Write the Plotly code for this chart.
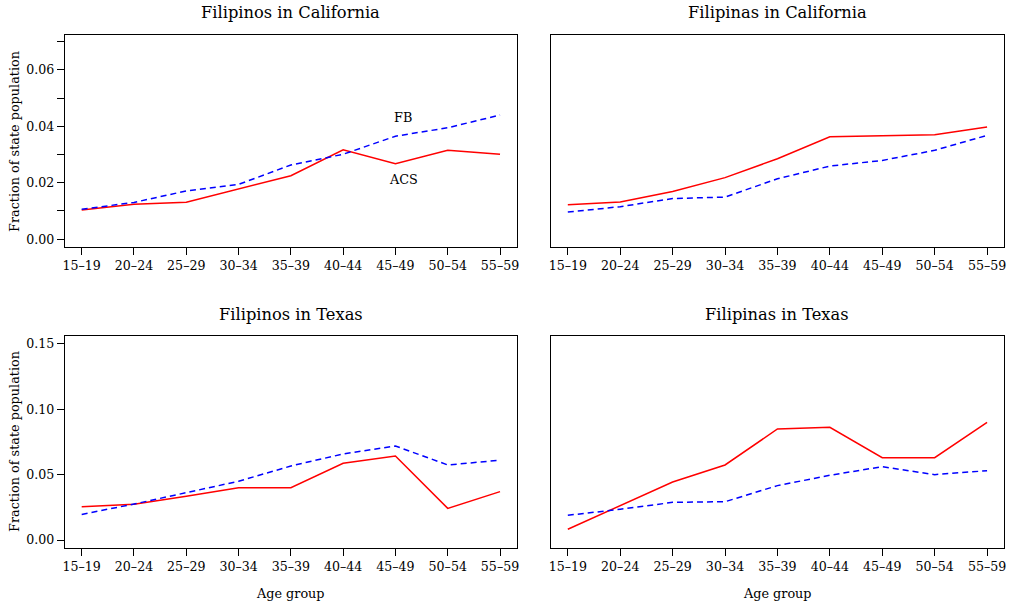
import plotly.graph_objects as go

age_groups = ["15–19", "20–24", "25–29", "30–34", "35–39", "40–44", "45–49", "50–54", "55–59"]

ca_male_acs = [0.0103, 0.0124, 0.0131, 0.0177, 0.0225, 0.0317, 0.0267, 0.0315, 0.0301]
ca_male_fb = [0.0106, 0.0130, 0.0171, 0.0194, 0.0263, 0.0301, 0.0365, 0.0395, 0.0440]
ca_female_acs = [0.0122, 0.0132, 0.0169, 0.0218, 0.0285, 0.0363, 0.0367, 0.0370, 0.0398]
ca_female_fb = [0.0096, 0.0115, 0.0144, 0.0149, 0.0214, 0.0259, 0.0279, 0.0315, 0.0368]
tx_male_acs = [0.0255, 0.0273, 0.0334, 0.0400, 0.0400, 0.0587, 0.0643, 0.0242, 0.0370]
tx_male_fb = [0.0196, 0.0275, 0.0362, 0.0449, 0.0566, 0.0658, 0.0719, 0.0574, 0.0610]
tx_female_acs = [0.0082, 0.0263, 0.0444, 0.0574, 0.0849, 0.0862, 0.0630, 0.0630, 0.0900]
tx_female_fb = [0.0189, 0.0235, 0.0288, 0.0293, 0.0416, 0.0495, 0.0561, 0.0500, 0.0530]

titles = ["Filipinos in California", "Filipinas in California", "Filipinos in Texas", "Filipinas in Texas"]

W, H = 1019, 607
FONT = "DejaVu Serif"


def fx(px):
    return px / W


def fy(py):
    return 1 - py / H


fig = go.Figure()

panels = [
    (1, ca_male_acs, ca_male_fb),
    (2, ca_female_acs, ca_female_fb),
    (3, tx_male_acs, tx_male_fb),
    (4, tx_female_acs, tx_female_fb),
]
for idx, acs, fb in panels:
    sfx = "" if idx == 1 else str(idx)
    fig.add_trace(go.Scatter(x=age_groups, y=acs, mode="lines", name="ACS",
                             line=dict(color="#FF0000", width=1.5),
                             xaxis="x" + sfx, yaxis="y" + sfx, showlegend=False))
    fig.add_trace(go.Scatter(x=age_groups, y=fb, mode="lines", name="FB",
                             line=dict(color="#0000FF", width=1.5, dash="6px,4px"),
                             xaxis="x" + sfx, yaxis="y" + sfx, showlegend=False))

xl = [fx(63), fx(517)]
xr = [fx(551), fx(1006)]
yt = [fy(247), fy(35)]
yb = [fy(548), fy(336)]

TICKFONT = dict(family=FONT, size=12.6, color="black")

xcommon = dict(showline=True, mirror=True, linecolor="black", linewidth=1,
               ticks="outside", ticklen=7, tickcolor="black", showgrid=False,
               zeroline=False, range=[-0.324, 8.324], tickfont=TICKFONT)

fig.update_layout(
    width=W, height=H,
    margin=dict(l=0, r=0, t=0, b=0),
    paper_bgcolor="white", plot_bgcolor="white",
    font=dict(family=FONT, color="black"),
    xaxis=dict(domain=xl, anchor="y", **xcommon),
    xaxis2=dict(domain=xr, anchor="y2", **xcommon),
    xaxis3=dict(domain=xl, anchor="y3", **xcommon),
    xaxis4=dict(domain=xr, anchor="y4", **xcommon),
    yaxis=dict(domain=yt, anchor="x", range=[-0.0028, 0.0724], dtick=0.02, tick0=0,
               tickformat=".2f", showline=True, mirror=True, linecolor="black",
               ticks="outside", ticklen=7, tickcolor="black", showgrid=False, zeroline=False,
               minor=dict(dtick=0.01, tick0=0, ticks="outside", ticklen=7, tickcolor="black", showgrid=False),
               tickfont=TICKFONT),
    yaxis2=dict(domain=yt, anchor="x2", range=[-0.0028, 0.0724], showline=True, mirror=True,
                linecolor="black", showticklabels=False, ticks="", showgrid=False, zeroline=False),
    yaxis3=dict(domain=yb, anchor="x3", range=[-0.0061, 0.156], dtick=0.05, tick0=0,
                tickformat=".2f", showline=True, mirror=True, linecolor="black",
                ticks="outside", ticklen=7, tickcolor="black", showgrid=False, zeroline=False,
                tickfont=TICKFONT),
    yaxis4=dict(domain=yb, anchor="x4", range=[-0.0061, 0.156], showline=True, mirror=True,
                linecolor="black", showticklabels=False, ticks="", showgrid=False, zeroline=False),
)

ann = []
title_pos = [((63 + 517) / 2, 13), ((551 + 1006) / 2, 13), ((63 + 517) / 2, 314), ((551 + 1006) / 2, 314)]
for t, (px, py) in zip(titles, title_pos):
    ann.append(dict(text=t, x=fx(px), y=fy(py), xref="paper", yref="paper",
                    showarrow=False, xanchor="center", yanchor="middle",
                    font=dict(family=FONT, size=16.3, color="black")))
for py in (141, 441):
    ann.append(dict(text="Fraction of state population", x=fx(12), y=fy(py),
                    xref="paper", yref="paper", showarrow=False, textangle=-90,
                    xanchor="center", yanchor="middle",
                    font=dict(family=FONT, size=12.8, color="black")))
for px in ((63 + 517) / 2, (551 + 1006) / 2):
    ann.append(dict(text="Age group", x=fx(px), y=fy(593), xref="paper", yref="paper",
                    showarrow=False, xanchor="center", yanchor="middle",
                    font=dict(family=FONT, size=12.8, color="black")))
ann.append(dict(text="FB", x=6.15, y=0.0430, xref="x", yref="y", showarrow=False,
                font=dict(family=FONT, size=12.8, color="black")))
ann.append(dict(text="ACS", x=6.15, y=0.0213, xref="x", yref="y", showarrow=False,
                font=dict(family=FONT, size=12.8, color="black")))
fig.update_layout(annotations=ann)

fig.write_html("out.html", config={"displayModeBar": False},
               post_script="document.body.style.margin='0';document.body.style.overflow='hidden';")
